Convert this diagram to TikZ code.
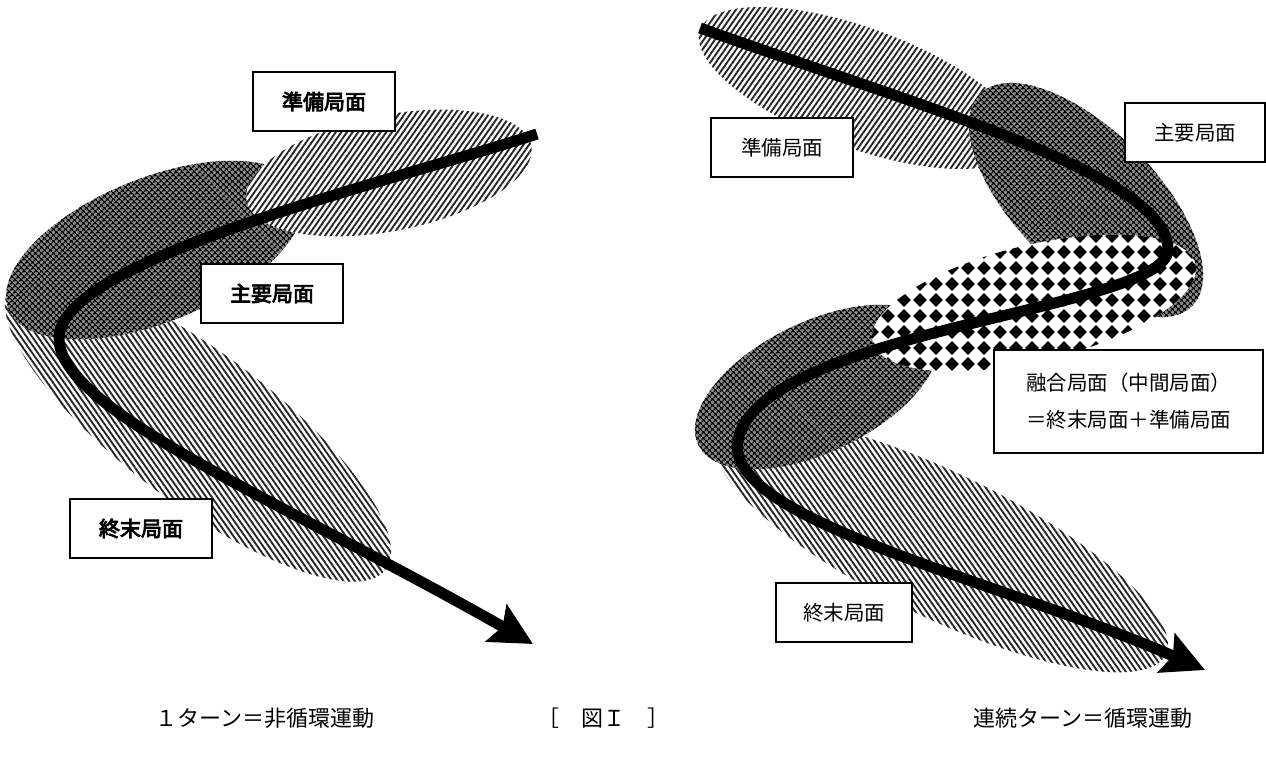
\documentclass[tikz,border=0pt]{standalone}
\usepackage{fontspec}
\newfontfamily\jp{Noto Sans CJK JP}
\newfontfamily\jpb[FakeBold=4]{Noto Sans CJK JP}
\usetikzlibrary{patterns.meta,arrows.meta,positioning}

\tikzdeclarepattern{
  name=hishi,
  type=uncolored,
  bottom left={(-1pt,-1pt)},
  top right={(17pt,17pt)},
  tile size={(16pt,16pt)},
  code={
    \tikzset{x=1pt,y=1pt}
    \fill (8,1.2) -- (14.8,8) -- (8,14.8) -- (1.2,8) -- cycle;
  }
}

\begin{document}
\begin{tikzpicture}[x=1pt,y=-1pt,
  phasebox/.style={draw,line width=1.6pt,fill=white,minimum width=142pt,minimum height=59pt,inner sep=0pt},
  futoji/.style={font=\jpb\fontsize{21pt}{25pt}\selectfont},
  hosoji/.style={font=\jp\fontsize{20.5pt}{37pt}\selectfont},
  maeline/.style={preaction={fill=white},pattern={Lines[angle=55,distance=4.6pt,line width=1.9pt]},pattern color=black!85},
  atoline/.style={preaction={fill=white},pattern={Lines[angle=-55,distance=4.6pt,line width=1.9pt]},pattern color=black!85},
  koi/.style={preaction={fill=black!45},pattern={Hatch[angle=45,distance=4pt,line width=1.3pt]},pattern color=black},
  hishigata/.style={preaction={fill=white},pattern=hishi,pattern color=black},
  nagare/.style={line width=11pt,-{Stealth[length=42pt,width=42pt,inset=7pt]}},
  midashi/.style={font=\jp\fontsize{22pt}{26pt}\selectfont}]
\useasboundingbox (0,0) rectangle (1266,756);
\fill[white] (0,0) rectangle (1266,756);

% 1ターン
\path[atoline,shift={(198,428)},rotate=-37] (0,0) ellipse [x radius=235,y radius=75];
\path[koi,shift={(155,250)},rotate=22] (0,0) ellipse [x radius=158,y radius=72];
\path[maeline,shift={(389,173)},rotate=11] (0,0) ellipse [x radius=145,y radius=58];

\coordinate (kaishi1) at (537,134);
\coordinate (kaiten1) at (59,338);
\coordinate (owari1) at (533,644);
\draw[nagare] (kaishi1) .. controls (380,185) and (60,260) .. (kaiten1)
  .. controls (58,410) and (280,500) .. (owari1);

\node[phasebox,futoji] (junbi1) at (324,101.5) {準備局面};
\node[phasebox,futoji] (shuyo1) at (272,293.5) {主要局面};
\node[phasebox,futoji] (shumatsu1) at (141,528.5) {終末局面};

% 連続ターン
\path[atoline,shift={(941,545)},rotate=-26] (0,0) ellipse [x radius=250,y radius=72];
\path[koi,shift={(817,387)},rotate=26] (0,0) ellipse [x radius=132,y radius=65];
\path[maeline,shift={(860,88)},rotate=-20] (0,0) ellipse [x radius=170,y radius=60];
\path[koi,shift={(1086,200)},rotate=-45] (0,0) ellipse [x radius=150,y radius=70];
\path[hishigata,shift={(1034,303)},rotate=13.5] (0,0) ellipse [x radius=166,y radius=58];

\coordinate (kaishi2) at (700,28);
\coordinate (kaiten2) at (1168,250);
\coordinate (kaiten3) at (738,440);
\coordinate (owari2) at (1205,670);
\draw[nagare] (kaishi2) .. controls (930,110) and (1168,175) .. (kaiten2)
  .. controls (1166,310) and (760,330) .. (kaiten3)
  .. controls (722,520) and (1000,580) .. (owari2);

\node[phasebox,hosoji] (junbi2) at (782,147.5) {準備局面};
\node[phasebox,hosoji,minimum width=140pt] (shuyo2) at (1195,132.5) {主要局面};
\node[phasebox,hosoji,minimum width=269pt,minimum height=103pt,align=left] (yugo2) at (1128.5,401.5) {融合局面（中間局面）\\＝終末局面＋準備局面};
\node[phasebox,hosoji,minimum width=136pt] (shumatsu2) at (844,612.5) {終末局面};

\node[midashi] (cap1) at (265,718) {１ターン＝非循環運動};
\node[midashi] (cap2) at (603,718) {［　図Ｉ　］};
\node[midashi] (cap3) at (1083,718) {連続ターン＝循環運動};
\end{tikzpicture}
\end{document}
